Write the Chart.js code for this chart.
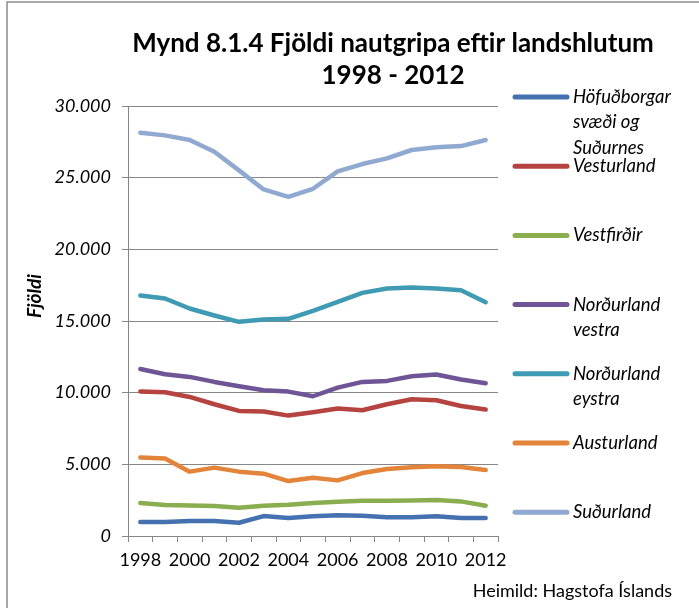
<!DOCTYPE html>
<html>
<head>
<meta charset="utf-8">
<script src="https://cdn.jsdelivr.net/npm/chart.js@4.4.1/dist/chart.umd.min.js"></script>
<style>
  html, body { margin: 0; padding: 0; background: #fff; }
  #wrap { width: 699px; height: 608px; }
</style>
</head>
<body>
<div id="wrap"><canvas id="chart" width="699" height="608"></canvas></div>
<script>
const years = ['1998', '1999', '2000', '2001', '2002', '2003', '2004', '2005', '2006', '2007', '2008', '2009', '2010', '2011', '2012'];

const hofudborg  = [970, 970, 1040, 1040, 925, 1390, 1250, 1370, 1440, 1415, 1300, 1300, 1370, 1250, 1250];
const vesturland = [10075, 10030, 9700, 9190, 8725, 8680, 8400, 8630, 8890, 8770, 9190, 9540, 9470, 9070, 8820];
const vestfirdir = [2300, 2160, 2135, 2090, 1975, 2115, 2185, 2300, 2395, 2465, 2465, 2485, 2510, 2415, 2115];
const nlVestra   = [11655, 11285, 11100, 10750, 10450, 10170, 10075, 9750, 10355, 10750, 10820, 11145, 11265, 10915, 10655];
const nlEystra   = [16780, 16570, 15870, 15385, 14940, 15100, 15150, 15700, 16330, 16960, 17270, 17340, 17270, 17150, 16310];
const austurland = [5470, 5400, 4490, 4770, 4490, 4350, 3835, 4070, 3880, 4390, 4670, 4790, 4860, 4810, 4600];
const sudurland  = [28135, 27950, 27625, 26810, 25510, 24180, 23666, 24225, 25440, 25950, 26350, 26930, 27115, 27205, 27625];

// legend names, split the way they wrap next to the plot
const seriesNames = [
  ['Höfuðborgar', 'svæði og', 'Suðurnes'],
  ['Vesturland'],
  ['Vestfirðir'],
  ['Norðurland', 'vestra'],
  ['Norðurland', 'eystra'],
  ['Austurland'],
  ['Suðurland']
];
const seriesValues = [hofudborg, vesturland, vestfirdir, nlVestra, nlEystra, austurland, sudurland];
const seriesColors = ['#4571b0', '#b5433f', '#8aad4f', '#6f5596', '#3f9bb3', '#e3843b', '#8fa9d1'];

const titleLines = ['Mynd 8.1.4 Fjöldi nautgripa eftir landshlutum', '1998 - 2012'];
const yTitle = 'Fjöldi';
const sourceText = 'Heimild: Hagstofa Íslands';

const GRID = '#878787';
const FONT = 'Lato';

function fmtThousands(v) {
  return String(v).replace(/\B(?=(\d{3})+(?!\d))/g, '.');
}

// title, axis title, side legend, source line and frame
const decorations = {
  id: 'decorations',
  afterDraw(chart) {
    const ctx = chart.ctx;
    ctx.save();

    ctx.strokeStyle = '#8c8c8c';
    ctx.lineWidth = 1.5;
    ctx.beginPath();
    ctx.moveTo(7, 608);
    ctx.lineTo(7, 2);
    ctx.lineTo(699, 2);
    ctx.stroke();

    ctx.fillStyle = '#000';
    ctx.textAlign = 'center';
    ctx.textBaseline = 'alphabetic';
    ctx.font = `bold 26px ${FONT}`;
    ctx.fillText(titleLines[0], 393, 52);
    ctx.fillText(titleLines[1], 393, 84);

    ctx.save();
    ctx.translate(35, 296);
    ctx.rotate(-Math.PI / 2);
    ctx.font = `italic bold 19px ${FONT}`;
    ctx.textBaseline = 'middle';
    ctx.fillText(yTitle, 0, 0);
    ctx.restore();

    ctx.textAlign = 'left';
    ctx.textBaseline = 'middle';
    ctx.font = `italic 18.5px ${FONT}`;
    chart.data.datasets.forEach((ds, i) => {
      const y = 97 + i * 69.2;
      ctx.strokeStyle = ds.borderColor;
      ctx.lineWidth = 5;
      ctx.lineCap = 'round';
      ctx.beginPath();
      ctx.moveTo(515, y);
      ctx.lineTo(567, y);
      ctx.stroke();
      ctx.fillStyle = '#000';
      seriesNames[i].forEach((line, k) => {
        ctx.fillText(line, 573, y + k * 25.5);
      });
    });

    ctx.textAlign = 'right';
    ctx.textBaseline = 'alphabetic';
    ctx.font = `18px ${FONT}`;
    ctx.fillText(sourceText, 672, 597);

    ctx.restore();
  }
};

new Chart(document.getElementById('chart'), {
  type: 'line',
  data: {
    labels: years,
    datasets: seriesValues.map((vals, i) => ({
      label: seriesNames[i].join(' '),
      data: vals,
      borderColor: seriesColors[i],
      backgroundColor: seriesColors[i],
      borderWidth: 4.5,
      borderCapStyle: 'round',
      borderJoinStyle: 'round',
      pointRadius: 0,
      tension: 0
    }))
  },
  options: {
    responsive: false,
    animation: false,
    layout: { padding: { left: 0, right: 201, top: 106, bottom: 32 } },
    plugins: {
      legend: { display: false },
      title: { display: false },
      tooltip: { enabled: false }
    },
    scales: {
      x: {
        offset: true,
        afterFit(scale) { scale.height = 40; },
        grid: {
          offset: true,
          drawOnChartArea: false,
          drawTicks: true,
          tickLength: 6,
          color: GRID
        },
        border: { color: GRID, width: 1 },
        ticks: {
          autoSkip: false,
          maxRotation: 0,
          padding: 7,
          color: '#000',
          font: { family: FONT, size: 18 },
          callback(value, index) {
            return index % 2 === 0 ? this.getLabelForValue(value) : '';
          }
        }
      },
      y: {
        min: 0,
        max: 30000,
        afterFit(scale) { scale.width = 128; },
        grid: {
          color: GRID,
          lineWidth: 1,
          tickLength: 6
        },
        border: { color: GRID, width: 1 },
        ticks: {
          stepSize: 5000,
          padding: 11,
          color: '#000',
          font: { family: FONT, size: 18, style: 'italic' },
          callback: (v) => fmtThousands(v)
        }
      }
    }
  },
  plugins: [decorations]
});
</script>
</body>
</html>
